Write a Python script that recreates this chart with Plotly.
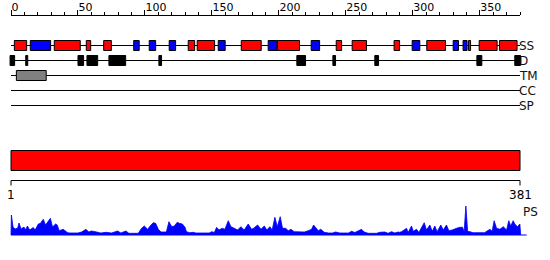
import plotly.graph_objects as go

# ---------------- data ----------------
seq_len = 381
top_major_ticks = [0, 50, 100, 150, 200, 250, 300, 350]
top_minor_ticks = [v for v in range(0, 381, 10) if v % 50 != 0]

# secondary structure elements: (start, end) residues
helix_start = [2.5, 32.3, 56.2, 69.2, 132.3, 139.0, 171.9, 198.7, 242.8, 254.7, 286.0, 310.4, 341.6, 349.5, 364.7]
helix_end   = [11.7, 51.7, 59.5, 74.9, 137.1, 152.0, 186.8, 215.4, 246.8, 265.4, 290.1, 324.4, 343.1, 362.9, 377.8]
strand_start = [14.4, 91.6, 103.2, 118.1, 154.7, 192.0, 224.1, 299.5, 330.1, 337.5]
strand_end   = [29.6, 95.7, 108.0, 122.9, 159.9, 198.5, 230.4, 305.2, 334.1, 340.5]

# disorder segments
dis_start = [-0.7, 11.0, 50.0, 56.7, 73.1, 110.4, 213.4, 240.3, 271.6, 347.8, 376.1]
dis_end   = [2.7, 12.5, 54.2, 64.7, 85.6, 112.4, 219.9, 242.3, 274.4, 351.5, 380.4]

# transmembrane segments
tm_start = [4.0]
tm_end = [26.3]

# domain bar
dom_start = [0]
dom_end = [380]

track_names = ["SS", "D", "TM", "CC", "SP"]
bottom_labels = ["1", "381"]

# PS profile: residue position, height
ps_res = [0, 0.3, 1.5, 3, 5, 6, 7.5, 9.7, 11, 12.2, 14, 16.6, 18, 20.4, 22, 24.1, 25.8, 27.8, 29.4, 31,
          33.3, 34.5, 36, 39, 40.5, 42.3, 44, 50, 52.7, 56, 58, 60, 64, 67, 71, 75, 79.6, 82, 85.8, 88,
          95, 97.5, 99.5, 102, 104.5, 106.2, 108, 110, 112, 116, 117.9, 120, 122, 124.1, 125.6, 127.9,
          129.9, 131, 133.5, 136, 138, 148, 149.8, 151.8, 153.5, 155.2, 157.7, 159.7, 162.2, 164.2,
          166.7, 169.2, 171.6, 174.1, 177.1, 179.6, 181.1, 184.1, 186.6, 189.1, 191, 193.3, 195, 197,
          198.8, 201, 202.7, 205, 207, 209, 211.4, 214, 219, 221.9, 224.4, 225.9, 227.6, 229.4, 231.3,
          233.8, 237, 240, 242.3, 245.5, 252, 254.2, 256.7, 259.2, 261.7, 263.7, 266.7, 273, 275.4, 279,
          281.5, 284.1, 286.6, 289, 290, 291.6, 295.3, 296.5, 299, 300.3, 302.8, 304.5, 308.5, 310.2,
          312.7, 314.5, 316.4, 318.1, 320.9, 322.7, 325.1, 326.9, 329.4, 332.6, 335.1, 337.1, 338.3,
          339.6, 340.9, 342.6, 345, 353.5, 355.7, 357.5, 359.2, 360.7, 362.5, 365, 367.5, 370, 371.6,
          373.1, 374.9, 376.1, 378.1, 379.9, 380.5]
ps_h = [0, 20, 8, 6, 7, 12, 6, 8, 5, 9, 5, 7.5, 5, 11, 11.7, 15.7, 10, 14, 16.7, 8,
        11, 10, 4.3, 5.7, 4.3, 2.3, 2, 2, 3, 5.7, 3, 4, 3, 2, 2.7, 2, 4, 2, 4, 1.7,
        1.7, 6.7, 9, 5.7, 10, 12.3, 11.7, 5.7, 3, 3, 13.3, 8.3, 9, 12.7, 11.7, 11,
        7.7, 3.3, 2.3, 2.7, 2, 2, 3.3, 2.5, 7.7, 5, 6.7, 5.7, 14.3, 8.3,
        6.7, 5, 8.3, 5, 11, 5.7, 6.7, 10, 5.7, 9, 5, 8.3, 5, 17.7,
        8.3, 18.3, 6.7, 6.7, 4.3, 5.7, 3.3, 3, 3, 4.3, 5.7, 10, 6.7, 4.3, 5.7,
        2.7, 2, 2, 3, 2, 2, 3.7, 2.5, 4.3, 5.7, 3, 1.7, 1.7, 2.7, 3,
        1.7, 3.3, 2, 3, 2.7, 3.3, 6.7, 2.5, 9, 3.7, 5.7, 2.5, 12.3, 5,
        10, 3.7, 9, 3.3, 10, 5, 10, 4.3, 5, 6.7, 7.7, 7.7, 3.3,
        29, 3.7, 3.3, 2.3, 2.3, 4.3, 5.7, 3.7, 14.3, 6.7, 5.7, 8.3, 5, 14.3,
        9, 14.3, 11, 8.3, 11, 0]

# ---------------- layout constants ----------------
W, H = 550, 260
X0, X1 = 11, 520                      # pixel span of residues 0..380
k = (X1 - X0) / (seq_len - 1)
track_y = {"SS": 45.5, "D": 60.5, "TM": 75.5, "CC": 90.5, "SP": 105.5}
box_half = 5
ps_base = 235
ruler_y = 15.5
bottom_y = 180.5

fig = go.Figure()
shapes = []

def hline(y, x0, x1, color="black"):
    shapes.append(dict(type="line", xref="x", yref="y", x0=x0, x1=x1, y0=y, y1=y,
                       line=dict(color=color, width=1)))

# top ruler line
hline(ruler_y, 0, seq_len - 1)

# track lines
for name in track_names:
    hline(track_y[name], 0, seq_len - 1)

def boxes(starts, ends, y, fill, half):
    for s, e in zip(starts, ends):
        shapes.append(dict(type="rect", xref="x", yref="y", x0=s, x1=e, y0=y - half, y1=y + half,
                           fillcolor=fill, line=dict(color="black", width=1)))

boxes(helix_start, helix_end, track_y["SS"], "#ff0000", box_half)
boxes(strand_start, strand_end, track_y["SS"], "#0000ff", box_half)
boxes(dis_start, dis_end, track_y["D"], "black", box_half)
boxes(tm_start, tm_end, track_y["TM"], "#808080", box_half)

# domain bar
for s, e in zip(dom_start, dom_end):
    shapes.append(dict(type="rect", xref="x", yref="y", x0=s, x1=e, y0=150.5, y1=170.5,
                       fillcolor="#ff0000", line=dict(color="black", width=1)))

# bottom ruler: line + end ticks
hline(bottom_y, 0, seq_len - 1)
for v in [0, seq_len - 1]:
    shapes.append(dict(type="line", xref="x", yref="y", x0=v, x1=v, y0=bottom_y, y1=bottom_y + 5,
                       line=dict(color="black", width=1)))

# PS profile
fig.add_trace(go.Scatter(x=[ps_res[0]] + ps_res + [ps_res[-1]],
                         y=[ps_base] + [ps_base - h for h in ps_h] + [ps_base],
                         mode="lines", fill="toself", fillcolor="#0000ff",
                         line=dict(color="#0000ff", width=0.8), hoverinfo="skip",
                         showlegend=False))
fig.add_trace(go.Scatter(x=[0, 385], y=[ps_base, ps_base], mode="lines",
                         line=dict(color="#0000ff", width=1), hoverinfo="skip",
                         showlegend=False))

annotations = []
font = dict(family="DejaVu Sans", size=12, color="#111")
for name in track_names:
    annotations.append(dict(text=name, xref="paper", yref="y", x=517 / W, y=track_y[name],
                            xanchor="left", yanchor="middle", showarrow=False, font=font))
annotations.append(dict(text="PS", xref="paper", yref="y", x=521 / W, y=211.5,
                        xanchor="left", yanchor="middle", showarrow=False, font=font))
for v, t in zip([0, seq_len - 1], bottom_labels):
    annotations.append(dict(text=t, xref="x", yref="y", x=v, y=195, xanchor="center",
                            yanchor="middle", showarrow=False,
                            font=dict(family="DejaVu Sans", size=12, color="black")))

fig.update_layout(
    width=W, height=H, margin=dict(l=0, r=0, t=0, b=0, pad=0, autoexpand=False),
    paper_bgcolor="white", plot_bgcolor="rgba(0,0,0,0)",
    shapes=shapes, annotations=annotations, showlegend=False,
    xaxis=dict(domain=[0, 1], range=[-X0 / k, (W - X0) / k], fixedrange=True,
               side="top", anchor="free", position=1 - 15 / H,
               showline=False, showgrid=False, zeroline=False, automargin=False,
               tickmode="array", tickvals=top_major_ticks,
               ticks="outside", ticklen=5, tickcolor="black", tickwidth=1,
               ticklabelposition="outside right",
               minor=dict(tickmode="array", tickvals=top_minor_ticks, ticks="outside",
                          ticklen=3, tickcolor="black", tickwidth=1, showgrid=False),
               tickfont=dict(family="DejaVu Sans", size=11, color="black")),
    yaxis=dict(domain=[0, 1], range=[H, 0], visible=False, fixedrange=True, automargin=False),
)

fig.write_html("out.html")
